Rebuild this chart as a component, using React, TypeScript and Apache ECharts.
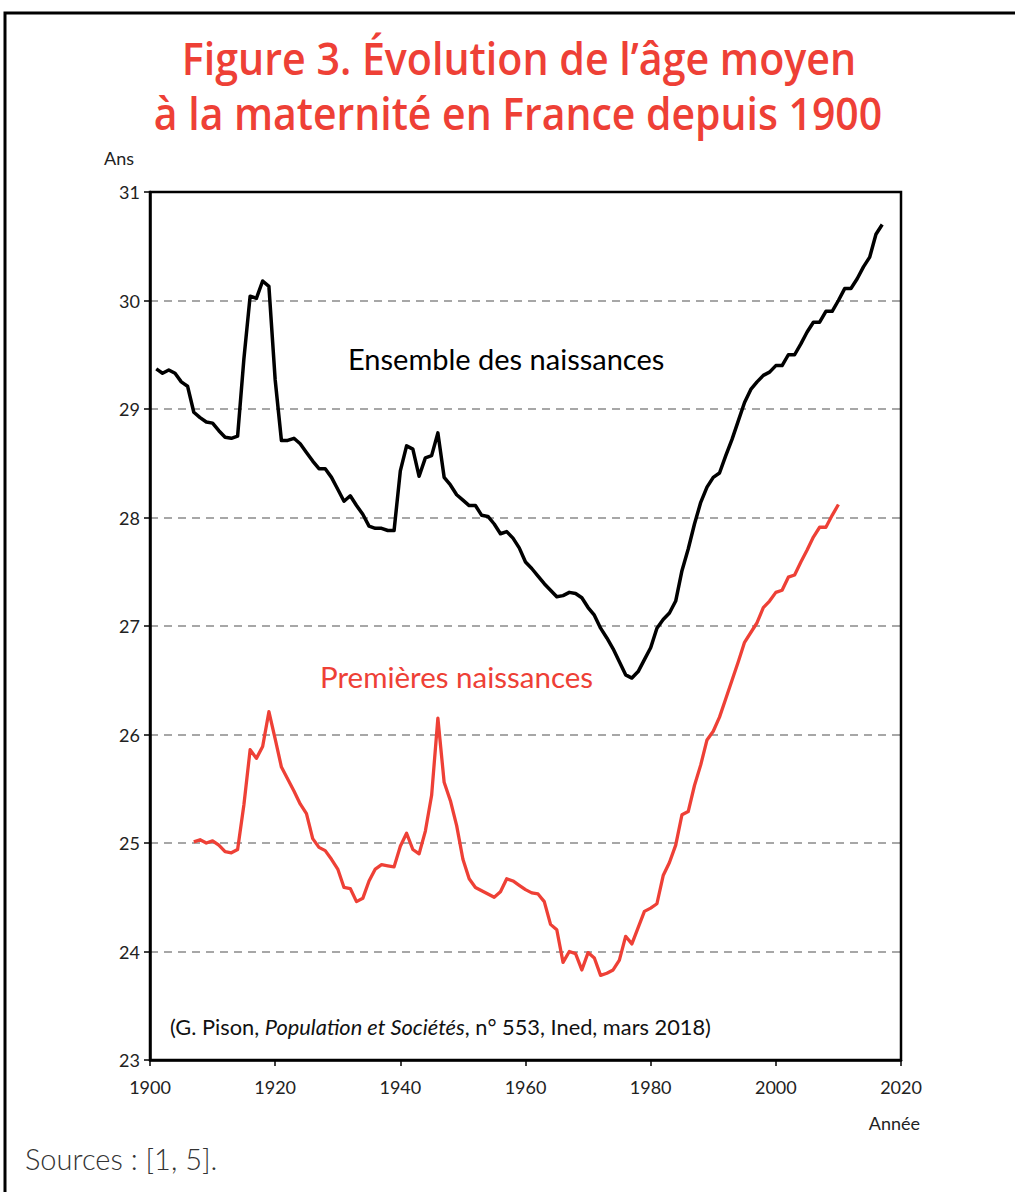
import React, { useEffect, useRef } from "react";
import * as echarts from "echarts";

const TITLE_LINES = [
  "Figure 3. Évolution de l’âge moyen",
  "à la maternité en France depuis 1900",
];
const Y_UNIT = "Ans";
const X_UNIT = "Année";
const LABEL_ALL = "Ensemble des naissances";
const LABEL_FIRST = "Premières naissances";
const SOURCE_NOTE = "Sources : [1, 5].";

const ALL_START_YEAR = 1901;
const allBirths = [
  29.37, 29.33, 29.36, 29.33, 29.25, 29.21, 28.97, 28.92, 28.88, 28.87,
  28.80, 28.74, 28.73, 28.75, 29.46, 30.04, 30.02, 30.18, 30.13, 29.27,
  28.71, 28.71, 28.73, 28.68, 28.60, 28.52, 28.45, 28.45, 28.37, 28.26,
  28.15, 28.20, 28.11, 28.03, 27.92, 27.90, 27.90, 27.88, 27.88, 28.43,
  28.66, 28.63, 28.38, 28.55, 28.57, 28.78, 28.37, 28.30, 28.21, 28.16,
  28.11, 28.11, 28.02, 28.01, 27.94, 27.85, 27.87, 27.81, 27.72, 27.59,
  27.53, 27.46, 27.39, 27.33, 27.27, 27.28, 27.31, 27.30, 27.26, 27.17,
  27.10, 26.98, 26.89, 26.79, 26.67, 26.55, 26.52, 26.58, 26.69, 26.80,
  26.98, 27.06, 27.12, 27.23, 27.51, 27.71, 27.94, 28.14, 28.28, 28.37,
  28.41, 28.57, 28.72, 28.89, 29.06, 29.18, 29.25, 29.31, 29.34, 29.40,
  29.40, 29.50, 29.50, 29.60, 29.71, 29.80, 29.80, 29.90, 29.90, 30.00,
  30.11, 30.11, 30.20, 30.31, 30.40, 30.61, 30.70,
];

const FIRST_START_YEAR = 1907;
const firstBirths = [
  25.01, 25.03, 25.00, 25.02, 24.98, 24.92, 24.91, 24.94, 25.35, 25.86,
  25.78, 25.89, 26.21, 25.96, 25.70, 25.59, 25.48, 25.36, 25.27, 25.04,
  24.96, 24.93, 24.85, 24.76, 24.59, 24.58, 24.46, 24.49, 24.65, 24.76,
  24.80, 24.79, 24.78, 24.97, 25.09, 24.94, 24.90, 25.11, 25.44, 26.15,
  25.56, 25.39, 25.16, 24.85, 24.67, 24.59, 24.56, 24.53, 24.50, 24.55,
  24.67, 24.65, 24.61, 24.57, 24.54, 24.53, 24.46, 24.25, 24.20, 23.90,
  24.00, 23.98, 23.83, 23.99, 23.94, 23.78, 23.80, 23.83, 23.92, 24.14,
  24.07, 24.22, 24.37, 24.40, 24.44, 24.70, 24.82, 24.98, 25.26, 25.29,
  25.53, 25.72, 25.95, 26.03, 26.16, 26.33, 26.50, 26.67, 26.85, 26.94,
  27.03, 27.17, 27.23, 27.31, 27.33, 27.45, 27.47, 27.59, 27.70, 27.82,
  27.91, 27.91, 28.02, 28.12,
];

const X_MIN = 1900;
const X_MAX = 2020;
const X_STEP = 20;
const Y_MIN = 23;
const Y_MAX = 31;
const Y_STEP = 1;

const RED = "#ee4036";
const LABEL_FONT = "Lato, 'Open Sans', sans-serif";

function toPairs(start: number, values: number[]) {
  return values.map((v, i) => [start + i, v]);
}

export default function App() {
  const ref = useRef<HTMLDivElement>(null);

  useEffect(() => {
    if (!ref.current) return;
    const chart = echarts.init(ref.current, null, { renderer: "svg" });
    chart.setOption({
      animation: false,
      backgroundColor: "#ffffff",
      grid: {
        left: 150,
        top: 192,
        width: 751,
        height: 868,
        show: true,
        borderColor: "#000",
        borderWidth: 2.5,
        backgroundColor: "transparent",
        z: 5,
      },
      xAxis: {
        type: "value",
        min: X_MIN,
        max: X_MAX,
        interval: X_STEP,
        axisLine: { show: true, onZero: false, lineStyle: { color: "#000", width: 2.5 } },
        axisTick: { show: true, length: 6, lineStyle: { color: "#000", width: 1.5 } },
        axisLabel: {
          color: "#222",
          fontSize: 18,
          fontFamily: LABEL_FONT,
          margin: 18,
          formatter: (v: number) => String(v),
        },
        splitLine: { show: false },
      },
      yAxis: {
        type: "value",
        min: Y_MIN,
        max: Y_MAX,
        interval: Y_STEP,
        axisLine: { show: true, onZero: false, lineStyle: { color: "#000", width: 2.5 } },
        axisTick: { show: true, length: 6, lineStyle: { color: "#000", width: 1.5 } },
        axisLabel: {
          color: "#222",
          fontSize: 18,
          fontFamily: LABEL_FONT,
          margin: 10,
        },
        splitLine: {
          show: true,
          showMinLine: false,
          showMaxLine: false,
          lineStyle: { color: "#8a8a8a", type: [8, 6], width: 1.5 },
        },
      },
      series: [
        {
          name: LABEL_ALL,
          type: "line",
          data: toPairs(ALL_START_YEAR, allBirths),
          showSymbol: false,
          lineStyle: { color: "#000", width: 3.5, join: "round" },
          z: 3,
        },
        {
          name: LABEL_FIRST,
          type: "line",
          data: toPairs(FIRST_START_YEAR, firstBirths),
          showSymbol: false,
          lineStyle: { color: RED, width: 3.3, join: "round" },
          z: 3,
        },
      ],
      graphic: [
        {
          type: "polyline",
          shape: { points: [[5, 1250], [5, 13], [1100, 13]] },
          style: { stroke: "#000", lineWidth: 3, fill: "none" },
          silent: true,
        },
        {
          type: "text",
          x: 519,
          y: 57,
          scaleX: 0.895,
          style: {
            text: TITLE_LINES[0],
            fill: RED,
            font: "600 46px 'Open Sans', sans-serif",
            textAlign: "center",
            textVerticalAlign: "middle",
          },
        },
        {
          type: "text",
          x: 518,
          y: 112,
          scaleX: 0.89,
          style: {
            text: TITLE_LINES[1],
            fill: RED,
            font: "600 46px 'Open Sans', sans-serif",
            textAlign: "center",
            textVerticalAlign: "middle",
          },
        },
        {
          type: "text",
          x: 104,
          y: 158,
          style: {
            text: Y_UNIT,
            fill: "#222",
            font: `18px ${LABEL_FONT}`,
            textAlign: "left",
            textVerticalAlign: "middle",
          },
        },
        {
          type: "text",
          x: 920,
          y: 1123,
          style: {
            text: X_UNIT,
            fill: "#222",
            font: `18px ${LABEL_FONT}`,
            textAlign: "right",
            textVerticalAlign: "middle",
          },
        },
        {
          type: "text",
          x: 348,
          y: 358,
          style: {
            text: LABEL_ALL,
            fill: "#000",
            font: `29px ${LABEL_FONT}`,
            textAlign: "left",
            textVerticalAlign: "middle",
          },
        },
        {
          type: "text",
          x: 320,
          y: 676,
          style: {
            text: LABEL_FIRST,
            fill: RED,
            font: `29.5px ${LABEL_FONT}`,
            textAlign: "left",
            textVerticalAlign: "middle",
          },
        },
        {
          type: "text",
          x: 170,
          y: 1026,
          style: {
            text: "(G. Pison, {i|Population et Sociétés}, n° 553, Ined, mars 2018)",
            fill: "#111",
            font: `21.8px ${LABEL_FONT}`,
            fontSize: 21.8,
            fontFamily: LABEL_FONT,
            textAlign: "left",
            textVerticalAlign: "middle",
            rich: {
              i: {
                fontStyle: "italic",
                fontSize: 21.8,
                fontFamily: LABEL_FONT,
                fill: "#111",
              },
            },
          },
        },
        {
          type: "text",
          x: 25,
          y: 1158,
          style: {
            text: SOURCE_NOTE,
            fill: "#333",
            font: `300 29px ${LABEL_FONT}`,
            textAlign: "left",
            textVerticalAlign: "middle",
          },
        },
      ],
    });
    return () => chart.dispose();
  }, []);

  return (
    <div
      ref={ref}
      style={{ position: "absolute", left: 0, top: 0, width: 1015, height: 1192 }}
    />
  );
}
